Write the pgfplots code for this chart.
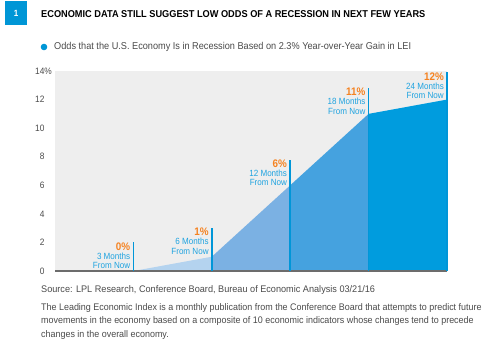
\documentclass[border=0pt]{standalone}
\usepackage{pgfplots}
\pgfplotsset{compat=1.18}
\usepackage{fontspec}
\setmainfont{Liberation Sans}[FakeStretch=0.90]
\newfontfamily\titlefont{Liberation Sans}[FakeStretch=0.925]
\newfontfamily\legfont{Liberation Sans}[FakeStretch=0.92]
\newfontfamily\srcfont{Liberation Sans}[FakeStretch=0.955]
\newfontfamily\notefont{Liberation Sans}[FakeStretch=0.935]
\definecolor{boxblue}{HTML}{0096D6}
\definecolor{lineblue}{HTML}{0096D8}
\definecolor{lblblue}{HTML}{1FA3E0}
\definecolor{orng}{HTML}{F58220}
\definecolor{segA}{HTML}{B4D3EF}
\definecolor{segB}{HTML}{7BB1E3}
\definecolor{segC}{HTML}{45A2DF}
\definecolor{segD}{HTML}{009CDE}
\definecolor{bgray}{HTML}{EEEEEE}
\definecolor{txtgray}{HTML}{4A4A4A}
\begin{document}
\begin{tikzpicture}
\begin{axis}[
  width=392bp, height=200bp, scale only axis,
  xmin=0, xmax=5, ymin=0, ymax=14,
  axis background/.style={fill=bgray},
  axis line style={draw=none},
  major tick length=0pt,
  xtick=\empty,
  ytick={0,2,4,6,8,10,12,14},
  yticklabels={0,2,4,6,8,10,12,14\rlap{\%}},
  yticklabel style={font=\fontsize{9.3}{9}\selectfont, text=txtgray, xshift=-7bp},
  /pgf/number format/assume math mode=true,
  clip=false,
]
\addplot[fill=segA, draw=none] coordinates {(1,0) (2,1)} \closedcycle;
\addplot[fill=segB, draw=none] coordinates {(2,0) (2,1) (3,6)} \closedcycle;
\addplot[fill=segC, draw=none] coordinates {(3,0) (3,6) (4,11)} \closedcycle;
\addplot[fill=segD, draw=none] coordinates {(4,0) (4,11) (5,12)} \closedcycle;
\draw[gray!85!black, line width=1.2bp] (axis cs:0,0) -- (axis cs:5,0);
\addplot[lineblue, line width=1.6bp] coordinates {(1,0) (1,2.0)};
\addplot[lineblue, line width=1.6bp] coordinates {(2,0) (2,3.0)};
\addplot[lineblue, line width=1.6bp] coordinates {(3,0) (3,7.8)};
\addplot[lineblue, line width=1.6bp] coordinates {(4,0) (4,12.8)};
\addplot[lineblue, line width=1.6bp] coordinates {(5,0) (5,13.9)};
\foreach \xx/\yy/\pc/\mo in {1/2.0/0/3,2/3.0/1/6,3/7.8/6/12,4/12.8/11/18,5/13.9/12/24}{
  \edef\tmp{\noexpand\node[anchor=north east, inner sep=0, xshift=-3bp, align=right, text=lblblue, font=\noexpand\fontsize{9}{9.4}\noexpand\selectfont] at (axis cs:\xx,\yy) {{\noexpand\color{orng}\noexpand\fontsize{11}{11}\noexpand\selectfont\noexpand\bfseries \pc\noexpand\%}\noexpand\\[-0.5bp] \mo\ Months\noexpand\\ From Now};}
  \tmp
}
\end{axis}
\begin{scope}[x=1bp,y=1bp,shift={(-55bp,-74bp)}]
\path[use as bounding box] (0,0) rectangle (489,345);
% number box
\fill[boxblue] (5,320) rectangle (27,344);
\node[text=white,font=\fontsize{9}{9}\selectfont\bfseries] at (16,332) {1};
% title
\node[anchor=west,inner sep=0,font=\titlefont\fontsize{10}{10}\selectfont\bfseries] at (41,331) {ECONOMIC DATA STILL SUGGEST LOW ODDS OF A RECESSION IN NEXT FEW YEARS};
% legend
\fill[boxblue] (44,298) circle (3.3);
\node[anchor=west,inner sep=0,text=txtgray,font=\legfont\fontsize{10}{10}\selectfont] at (54,298) {Odds that the U.S. Economy Is in Recession Based on 2.3\% Year-over-Year Gain in LEI};
% source and note
\node[anchor=west,inner sep=0,text=txtgray,font=\srcfont\fontsize{9.6}{10}\selectfont] at (41,55) {Source: LPL Research, Conference Board, Bureau of Economic Analysis 03/21/16};
\node[anchor=north west,inner sep=0,text=txtgray,align=left,font=\notefont\fontsize{9.6}{13.5}\selectfont] at (41,42) {The Leading Economic Index is a monthly publication from the Conference Board that attempts to predict future\\movements in the economy based on a composite of 10 economic indicators whose changes tend to precede\\changes in the overall economy.};
\end{scope}
\end{tikzpicture}
\end{document}
